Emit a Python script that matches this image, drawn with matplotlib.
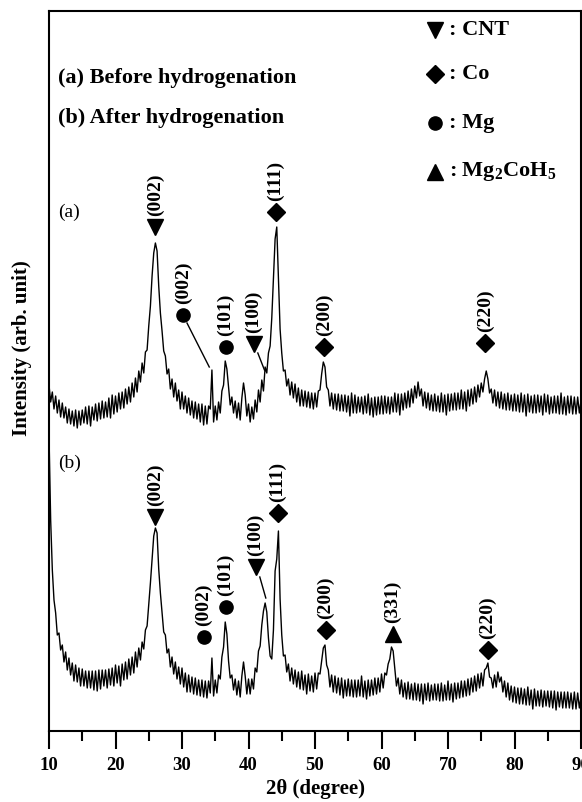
import numpy as np
import matplotlib
matplotlib.use("Agg")
import matplotlib.pyplot as plt
from matplotlib.ticker import MultipleLocator

plt.rcParams['font.family'] = ['Liberation Serif', 'DejaVu Serif']
plt.rcParams['font.weight'] = 'bold'
plt.rcParams['axes.labelweight'] = 'bold'
plt.rcParams['mathtext.fontset'] = 'custom'
plt.rcParams['mathtext.rm'] = 'Liberation Serif:bold'
plt.rcParams['mathtext.bf'] = 'Liberation Serif:bold'

########## data (0.25 deg steps) ##########
two_theta = np.arange(10, 90.001, 0.25)

# (a) before hydrogenation
before = [
    346, 329, 339, 322,  335, 318, 331, 314,  328, 313, 324, 308,  322, 307, 320, 305,
    321, 303, 320, 306,  321, 308, 324, 307,  325, 305, 324, 311,  327, 310, 328, 312,
    330, 313, 329, 314,  333, 313, 336, 317,  335, 319, 338, 322,  339, 323, 342, 327,
    344, 329, 348, 334,  353, 339, 360, 349,  368, 358, 379, 381,  405, 425, 455, 478,
    488, 480, 445, 418,  400, 380, 375, 357,  362, 342, 352, 334,  348, 330, 341, 322,
    339, 322, 335, 318,  333, 316, 330, 313,  329, 312, 327, 309,  327, 306, 325, 307,
    325, 322, 361, 309,  325, 311, 329, 318,  340, 346, 370, 362,  344, 326, 334, 318,
    330, 313, 328, 311,  333, 348, 336, 315,  327, 309, 324, 312,  331, 319, 341, 329,
    351, 340, 364, 358,  378, 385, 413, 452,  492, 504, 452, 402,  378, 360, 361, 345,
    352, 336, 349, 333,  347, 329, 343, 325,  341, 325, 340, 324,  339, 323, 338, 322,
    338, 324, 340, 341,  357, 369, 364, 344,  341, 325, 338, 322,  337, 321, 337, 320,
    336, 320, 336, 319,  335, 315, 338, 318,  336, 318, 334, 319,  334, 317, 335, 318,
    337, 316, 333, 314,  334, 316, 334, 317,  335, 317, 335, 318,  334, 317, 334, 319,
    338, 319, 337, 316,  337, 321, 338, 323,  340, 324, 342, 328,  345, 333, 349, 335,
    342, 325, 339, 323,  338, 321, 336, 320,  337, 320, 335, 319,  338, 319, 336, 316,
    337, 320, 337, 321,  338, 321, 338, 322,  341, 322, 339, 320,  341, 325, 342, 327,
    344, 329, 346, 334,  348, 339, 352, 360,  352, 338, 342, 328,  341, 325, 339, 323,
    339, 322, 337, 321,  338, 321, 336, 320,  337, 320, 336, 319,  338, 319, 336, 315,
    337, 319, 335, 318,  336, 318, 336, 319,  335, 316, 337, 319,  336, 317, 334, 318,
    335, 318, 335, 317,  338, 317, 334, 316,  335, 318, 335, 317,  334, 317, 334, 318,
    330,
]

# (b) after hydrogenation
after = [
    296, 211, 161, 131,  118, 96, 98, 81,  86, 69, 79, 61,  73, 56, 68, 50,
    66, 49, 63, 45,  62, 45, 60, 43,  60, 43, 60, 41,  60, 40, 61, 42,
    61, 45, 61, 43,  62, 46, 63, 45,  66, 48, 65, 45,  67, 51, 69, 52,
    72, 56, 74, 58,  79, 64, 83, 71,  89, 82, 101, 105,  126, 148, 172, 195,
    203, 198, 162, 138,  119, 99, 96, 78,  82, 64, 74, 57,  69, 52, 64, 47,
    63, 44, 58, 39,  56, 39, 54, 37,  53, 36, 51, 35,  51, 34, 50, 33,
    50, 38, 73, 35,  51, 38, 56, 52,  74, 84, 109, 97,  70, 53, 56, 41,
    52, 36, 50, 34,  55, 69, 55, 37,  52, 37, 52, 42,  63, 59, 80, 85,
    106, 120, 128, 119,  93, 75, 72, 101,  160, 172, 200, 132,  96, 75, 76, 59,
    67, 50, 63, 47,  61, 44, 59, 42,  60, 41, 56, 37,  57, 40, 55, 39,
    58, 42, 58, 57,  70, 83, 86, 66,  61, 44, 56, 39,  55, 38, 53, 36,
    53, 33, 51, 35,  52, 35, 51, 34,  51, 34, 51, 35,  55, 34, 50, 32,
    51, 35, 51, 36,  53, 37, 53, 39,  57, 43, 58, 56,  67, 72, 84, 80,
    62, 45, 53, 37,  51, 34, 48, 32,  49, 32, 47, 31,  48, 31, 47, 30,
    47, 27, 47, 31,  48, 30, 46, 31,  47, 31, 47, 30,  48, 30, 46, 31,
    50, 31, 47, 29,  48, 32, 48, 33,  50, 34, 50, 35,  52, 36, 53, 39,
    55, 40, 57, 43,  58, 45, 61, 63,  68, 54, 53, 43,  56, 44, 59, 49,
    54, 39, 50, 34,  48, 31, 45, 29,  44, 28, 43, 27,  43, 27, 42, 26,
    44, 26, 41, 22,  42, 25, 40, 25,  41, 24, 40, 25,  40, 24, 40, 23,
    40, 21, 39, 24,  39, 23, 39, 23,  39, 23, 38, 22,  39, 22, 38, 23,
    34,
]

# peak marks: position, marker height, hkl, phase
peaks_a_x = [26.0, 30.2, 36.6, 40.8, 44.1, 51.4, 75.6]
peaks_a_y = [504, 416, 384, 387, 519, 384, 388]
peaks_a_hkl = ['(002)', '(002)', '(101)', '(100)', '(111)', '(200)', '(220)']
peaks_a_phase = ['CNT', 'Mg', 'Mg', 'CNT', 'Co', 'Co', 'Co']

peaks_b_x = [26.0, 33.3, 36.6, 41.1, 44.4, 51.6, 61.7, 76.0]
peaks_b_y = [214, 94, 124, 164, 218, 101, 97, 81]
peaks_b_hkl = ['(002)', '(002)', '(101)', '(100)', '(111)', '(200)', '(331)', '(220)']
peaks_b_phase = ['CNT', 'Mg', 'Mg', 'CNT', 'Co', 'Co', 'MgCoH', 'Co']

# leader lines
lead_a_mg_x, lead_a_mg_y = [30.75, 34.1], [408, 364]
lead_a_cnt_x, lead_a_cnt_y = [41.4, 42.4], [378, 361]
lead_b_cnt_x, lead_b_cnt_y = [41.7, 42.6], [154, 133]

phase_marker = {'CNT': ('v', 11), 'Co': ('D', 9), 'Mg': ('o', 9.5), 'MgCoH': ('^', 11)}
phase_name = {'CNT': ': CNT', 'Co': ': Co', 'Mg': ': Mg', 'MgCoH': r': Mg$_2$CoH$_5$'}

########## plot ##########
fig = plt.figure(figsize=(5.82, 8.02), dpi=100)
ax = fig.add_axes([49/582, 71/802, 532/582, 720/802])

ax.plot(two_theta, before, color='black', linewidth=1.0)
ax.plot(two_theta, after, color='black', linewidth=1.0)

for xs, ys, hkls, phs in [(peaks_a_x, peaks_a_y, peaks_a_hkl, peaks_a_phase),
                          (peaks_b_x, peaks_b_y, peaks_b_hkl, peaks_b_phase)]:
    for x, y, hkl, ph in zip(xs, ys, hkls, phs):
        m, s = phase_marker[ph]
        ax.plot(x, y, marker=m, markersize=s, color='black', linestyle='none')
        ax.annotate(hkl, (x, y), xytext=(0, 8), textcoords='offset points',
                    rotation=90, ha='center', va='bottom', fontsize=14)

for lx, ly in [(lead_a_mg_x, lead_a_mg_y), (lead_a_cnt_x, lead_a_cnt_y),
               (lead_b_cnt_x, lead_b_cnt_y)]:
    ax.plot(lx, ly, color='black', linewidth=1.0)

ax.text(11.3, 519, '(a)', fontsize=14, fontweight='normal', va='center')
ax.text(11.3, 268, '(b)', fontsize=14, fontweight='normal', va='center')

ax.text(0.017, 0.907, '(a) Before hydrogenation', transform=ax.transAxes,
        fontsize=16, va='center')
ax.text(0.017, 0.851, '(b) After hydrogenation', transform=ax.transAxes,
        fontsize=16, va='center')

leg_y = [0.974, 0.913, 0.844, 0.777]
for ph, yy in zip(['CNT', 'Co', 'Mg', 'MgCoH'], leg_y):
    m, s = phase_marker[ph]
    ax.plot(0.7256, yy, marker=m, markersize=s, color='black',
            transform=ax.transAxes, clip_on=False)
    ax.text(0.752, yy, phase_name[ph], transform=ax.transAxes,
            fontsize=16, va='center')

ax.set_xlim(10, 90)
ax.set_ylim(0, 720)
ax.xaxis.set_major_locator(MultipleLocator(10))
ax.xaxis.set_minor_locator(MultipleLocator(5))
ax.tick_params(axis='x', which='major', direction='out', length=13, width=1.5,
               labelsize=13.5, pad=6)
ax.tick_params(axis='x', which='minor', direction='out', length=7, width=1.5)
ax.set_yticks([])
for sp in ax.spines.values():
    sp.set_linewidth(1.5)

ax.set_xlabel('2θ (degree)', fontsize=15, fontweight='bold', labelpad=3)
fig.text(0.038, 0.566, 'Intensity (arb. unit)', rotation=90, fontsize=15,
         ha='center', va='center')

fig.savefig('out.png', dpi=100)
